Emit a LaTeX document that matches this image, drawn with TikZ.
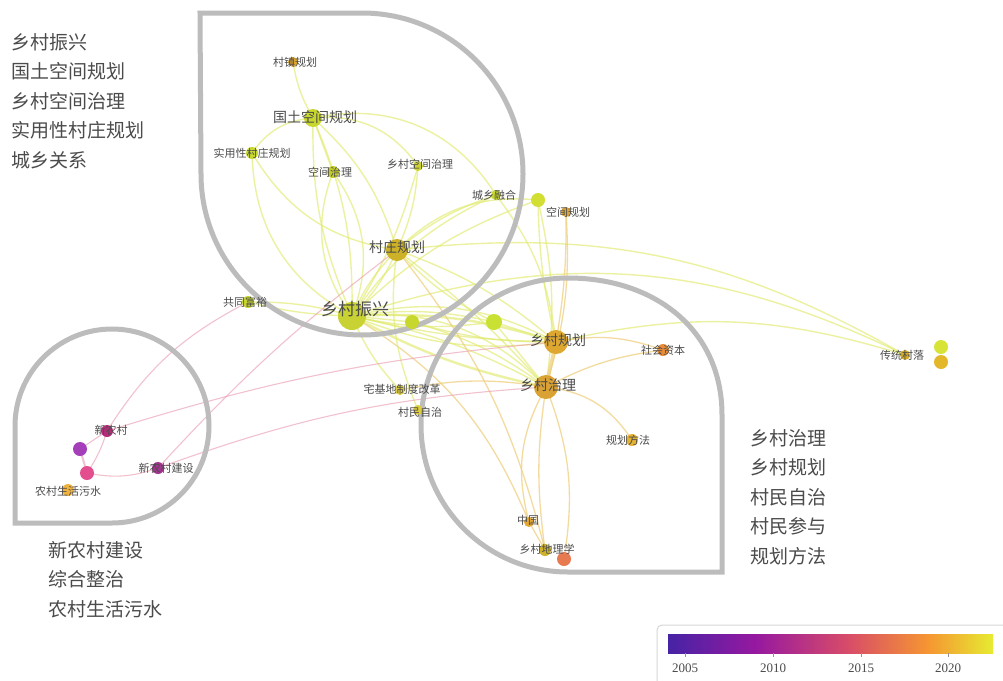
\documentclass[tikz,border=0pt]{standalone}
\usepackage{fontspec}
\setmainfont{Liberation Serif}
\newfontfamily\cjk{Noto Sans CJK SC}
\usetikzlibrary{calc}
\definecolor{pla}{RGB}{70,35,165}
\definecolor{plb}{RGB}{150,25,160}
\definecolor{plc}{RGB}{215,75,105}
\definecolor{pld}{RGB}{245,150,50}
\definecolor{ple}{RGB}{230,235,50}
\definecolor{outl}{RGB}{188,188,188}
\definecolor{txt}{RGB}{75,75,75}
\definecolor{ygc}{RGB}{200,215,45}
\definecolor{edy}{RGB}{225,235,110}
\definecolor{edo}{RGB}{238,205,120}
\definecolor{edp}{RGB}{235,160,180}
\pgfdeclarehorizontalshading{plasma}{100bp}{color(0bp)=(pla); color(25bp)=(pla); color(38.5bp)=(plb); color(52.5bp)=(plc); color(65bp)=(pld); color(75bp)=(ple); color(100bp)=(ple)}
\pgfdeclarelayer{bg}
\pgfsetlayers{bg,main}
\tikzset{
  dot/.style={circle,inner sep=0pt,minimum size=#1,draw=none},
  lab/.style={font=\cjk\fontsize{11}{11}\selectfont,text=txt,inner sep=0pt},
  labm/.style={font=\cjk\fontsize{14}{14}\selectfont,text=txt,inner sep=0pt},
  labl/.style={font=\cjk\fontsize{17}{17}\selectfont,text=txt,inner sep=0pt},
  legend/.style={font=\cjk\fontsize{19}{29.5}\selectfont,text=txt,align=left,anchor=north west,inner sep=0pt},
  edge/.style={draw=edy,line width=1.4pt,opacity=0.65},
  edgeo/.style={draw=edo,line width=1.3pt,opacity=0.7},
  edgep/.style={draw=edp,line width=1.1pt,opacity=0.65},
  cluster/.style={draw=outl,line width=5pt,line join=miter},
  yr/.style={font=\fontsize{13}{13}\selectfont,text=txt,inner sep=0pt}
}
\begin{document}
\begin{tikzpicture}[x=1pt,y=-1pt]
\useasboundingbox (0,0) rectangle (1003,680);

% nodes (dots)
\node[dot=10pt,fill={rgb,255:red,220;green,165;blue,45}] (czgh) at (293,62) {};
\node[dot=18pt,fill=ygc] (gtkj) at (313,118) {};
\node[dot=12pt,fill=ygc] (syx) at (252,153) {};
\node[dot=12pt,fill={rgb,255:red,195;green,205;blue,40}] (kjzl) at (333,172) {};
\node[dot=10pt,fill={rgb,255:red,205;green,210;blue,55}] (xckjzl) at (418,166) {};
\node[dot=10pt,fill=ygc] (cxrh) at (496,195) {};
\node[dot=14pt,fill={rgb,255:red,210;green,222;blue,50}] (u1) at (538,200) {};
\node[dot=10pt,fill={rgb,255:red,222;green,165;blue,55}] (kjgh) at (566,212) {};
\node[dot=22pt,fill={rgb,255:red,205;green,178;blue,40}] (czgh2) at (397,250) {};
\node[dot=12pt,fill=ygc] (gtfy) at (248,302) {};
\node[dot=28pt,fill={rgb,255:red,200;green,210;blue,50}] (xczx) at (352,316) {};
\node[dot=14pt,fill=ygc] (u2) at (412,322) {};
\node[dot=16pt,fill={rgb,255:red,200;green,225;blue,50}] (u3) at (494,322) {};
\node[dot=24pt,fill={rgb,255:red,222;green,168;blue,48}] (xcgh) at (556,342) {};
\node[dot=24pt,fill={rgb,255:red,218;green,162;blue,52}] (xczl) at (546,387) {};
\node[dot=12pt,fill={rgb,255:red,232;green,140;blue,55}] (shzb) at (663,350) {};
\node[dot=10pt,fill={rgb,255:red,212;green,172;blue,42}] (ctcl) at (905,355) {};
\node[dot=14pt,fill={rgb,255:red,215;green,228;blue,55}] (u4) at (941,347) {};
\node[dot=14pt,fill={rgb,255:red,228;green,182;blue,42}] (u5) at (941,362) {};
\node[dot=10pt,fill={rgb,255:red,222;green,205;blue,65}] (zjd) at (400,390) {};
\node[dot=10pt,fill={rgb,255:red,222;green,205;blue,65}] (cmzz) at (418,410) {};
\node[dot=12pt,fill={rgb,255:red,228;green,178;blue,52}] (ghff) at (632,440) {};
\node[dot=10pt,fill={rgb,255:red,228;green,168;blue,52}] (zg) at (529,522) {};
\node[dot=12pt,fill={rgb,255:red,205;green,178;blue,42}] (xcdlx) at (545,550) {};
\node[dot=14pt,fill={rgb,255:red,232;green,122;blue,82}] (u6) at (564,559) {};
\node[dot=12pt,fill={rgb,255:red,182;green,42;blue,122}] (xnc) at (107,431) {};
\node[dot=14pt,fill={rgb,255:red,165;green,62;blue,185}] (u7) at (80,449) {};
\node[dot=14pt,fill={rgb,255:red,226;green,78;blue,142}] (u8) at (87,473) {};
\node[dot=12pt,fill={rgb,255:red,162;green,52;blue,142}] (xncjs) at (158,468) {};
\node[dot=12pt,fill={rgb,255:red,240;green,178;blue,62}] (ncsh) at (68,490) {};

% background, edges and cluster outlines
\begin{pgfonlayer}{bg}
\fill[white] (0,0) rectangle (1003,680);
\draw[edge] (gtkj.center) to[bend left=10] (czgh.center);
\draw[edge] (gtkj.center) to[bend right=25] (syx.center);
\draw[edge] (gtkj.center) -- (kjzl.center);
\draw[edge] (gtkj.center) to[bend left=12] (xczx.center);
\draw[edge] (gtkj.center) to[bend right=12] (xczx.center);
\draw[edge] (gtkj.center) to[bend left=15] (czgh2.center);
\draw[edge] (gtkj.center) to[bend left=30] (xckjzl.center);
\draw[edge] (gtkj.center) to[bend left=35] (cxrh.center);
\draw[edge] (syx.center) to[bend right=30] (xczx.center);
\draw[edge] (syx.center) to[bend right=25] (czgh2.center);
\draw[edge] (kjzl.center) to[bend left=28] (xczx.center);
\draw[edge] (kjzl.center) to[bend right=28] (xczx.center);
\draw[edge] (xckjzl.center) to[bend left=8] (xczx.center);
\draw[edge] (xckjzl.center) to[bend left=10] (czgh2.center);
\draw[edge] (cxrh.center) to[bend right=15] (xczx.center);
\draw[edge] (cxrh.center) to[bend right=10] (czgh2.center);
\draw[edge] (cxrh.center) to[bend left=15] (xcgh.center);
\draw[edge] (czgh2.center) to[bend left=10] (xczx.center);
\draw[edge] (czgh2.center) to[bend right=10] (xczx.center);
\draw[edge] (gtfy.center) to[bend left=8] (xczx.center);
\draw[edge] (gtfy.center) to[bend right=6] (xczx.center);
\draw[edge,line width=2.4pt] (xczx.center) to[bend left=10] (xcgh.center);
\draw[edge] (xczx.center) to[bend right=6] (xcgh.center);
\draw[edge] (xczx.center) to[bend right=14] (xcgh.center);
\draw[edge] (xczx.center) to[bend left=20] (xcgh.center);
\draw[edge,line width=2.4pt] (xczx.center) to[bend right=8] (xczl.center);
\draw[edge] (xczx.center) to[bend left=25] (xczl.center);
\draw[edge] (xczx.center) to[bend left=8] (xczl.center);
\draw[edge] (xczx.center) -- (u2.center);
\draw[edge] (xczx.center) to[bend left=10] (u3.center);
\draw[edge] (xczx.center) to[bend right=10] (u3.center);
\draw[edge] (u2.center) to[bend left=10] (xczl.center);
\draw[edge] (u2.center) to[bend right=8] (xcgh.center);
\draw[edge] (u3.center) -- (xczl.center);
\draw[edge] (u3.center) -- (xcgh.center);
\draw[edge] (czgh2.center) to[bend left=10] (xcgh.center);
\draw[edge] (czgh2.center) to[bend left=5] (xczl.center);
\draw[edge] (czgh2.center) to[bend left=25] (u1.center);
\draw[edge] (czgh2.center) to[bend right=10] (u3.center);
\draw[edge] (xczx.center) to[bend left=22] (ctcl.center);
\draw[edge] (czgh2.center) to[bend left=18] (ctcl.center);
\draw[edge] (xcgh.center) to[bend left=15] (ctcl.center);
\draw[edge] (xczx.center) to[bend left=12] (u1.center);
\draw[edge] (u1.center) to[bend left=10] (xczl.center);
\draw[edge] (u1.center) to[bend right=6] (xcgh.center);
\draw[edgeo] (kjgh.center) to[bend left=5] (xcgh.center);
\draw[edgeo] (kjgh.center) to[bend left=10] (xczl.center);
\draw[edgeo,line width=3.5pt] (xcgh.center) -- (xczl.center);
\draw[edgeo] (xcgh.center) to[bend left=15] (shzb.center);
\draw[edgeo] (xczl.center) to[bend left=10] (shzb.center);
\draw[edgeo] (xczl.center) to[bend left=25] (ghff.center);
\draw[edgeo] (xczl.center) to[bend right=22] (zg.center);
\draw[edgeo] (xczl.center) to[bend right=8] (xcdlx.center);
\draw[edgeo] (xczl.center) to[bend left=15] (u6.center);
\draw[edgeo] (zg.center) -- (xcdlx.center);
\draw[edgeo] (xczx.center) to[bend left=18] (zg.center);
\draw[edgeo] (czgh2.center) to[bend left=12] (xcdlx.center);
\draw[edge] (xczx.center) to[bend right=10] (zjd.center);
\draw[edge] (czgh2.center) to[bend right=15] (cmzz.center);
\draw[edgeo] (zjd.center) to[bend left=10] (xczl.center);
\draw[edgep] (xnc.center) -- (u7.center);
\draw[edgep,line width=2pt] (u7.center) -- (u8.center);
\draw[edgep] (u8.center) to[bend right=15] (xncjs.center);
\draw[edgep] (xnc.center) to[bend left=15] (gtfy.center);
\draw[edgep] (xnc.center) to[bend left=6] (xcgh.center);
\draw[edgep] (xncjs.center) to[bend left=8] (xczl.center);
\draw[edgep] (xncjs.center) to[bend left=5] (czgh2.center);
\draw[edgep] (u8.center) to[bend right=8] (xnc.center);
% cluster outlines
\draw[cluster] (200,13) -- (362,13) arc[start angle=-90,end angle=180,radius=161] -- cycle;
\draw[cluster] (722,572) -- (568,572) arc[start angle=90,end angle=270,radius=147]
  .. controls (655,278) and (722,330) .. (722,415) -- cycle;
\draw[cluster] (15,523) -- (112,523) arc[start angle=90,end angle=-180,radius=97] -- cycle;
\end{pgfonlayer}

% labels
\node[lab] (l-czgh) at (295,62) {村镇规划};
\node[labm] (l-gtkj) at (315,117) {国土空间规划};
\node[lab] (l-syx) at (252,153) {实用性村庄规划};
\node[lab] (l-kjzl) at (330,172) {空间治理};
\node[lab] (l-xckjzl) at (420,164) {乡村空间治理};
\node[lab] (l-cxrh) at (494,195) {城乡融合};
\node[lab] (l-kjgh) at (568,212) {空间规划};
\node[labm] (l-czgh2) at (397,247) {村庄规划};
\node[lab] (l-gtfy) at (245,302) {共同富裕};
\node[labl] (l-xczx) at (355,309) {乡村振兴};
\node[labm] (l-xcgh) at (558,340) {乡村规划};
\node[labm] (l-xczl) at (548,385) {乡村治理};
\node[lab] (l-shzb) at (663,350) {社会资本};
\node[lab] (l-ctcl) at (902,355) {传统村落};
\node[lab] (l-zjd) at (402,389) {宅基地制度改革};
\node[lab] (l-cmzz) at (420,412) {村民自治};
\node[lab] (l-ghff) at (628,440) {规划方法};
\node[lab] (l-zg) at (528,520) {中国};
\node[lab] (l-xcdlx) at (547,549) {乡村地理学};
\node[lab] (l-xnc) at (111,430) {新农村};
\node[lab] (l-xncjs) at (166,468) {新农村建设};
\node[lab] (l-ncsh) at (68,491) {农村生活污水};

% legends
\node[legend] (leg1) at (11,33) {乡村振兴\\国土空间规划\\乡村空间治理\\实用性村庄规划\\城乡关系};
\node[legend] (leg2) at (48,541) {新农村建设\\综合整治\\农村生活污水};
\node[legend] (leg3) at (750,429) {乡村治理\\乡村规划\\村民自治\\村民参与\\规划方法};

% colour bar
\draw[draw={rgb,255:red,215;green,215;blue,215},line width=1pt,rounded corners=5pt,fill=white] (657,625) rectangle (1010,690);
\shade[shading=plasma] (668,634) rectangle (993,653);
\node[inner sep=0pt] (cbar) at (830.5,643.5) {};
\foreach \xx/\yy in {685/2005,773/2010,861/2015,948/2020}{
  \draw[txt!60,line width=0.6pt] (\xx,653) -- (\xx,657);
  \node[yr] (y\yy) at (\xx,668) {\yy};
}
\end{tikzpicture}
\end{document}
